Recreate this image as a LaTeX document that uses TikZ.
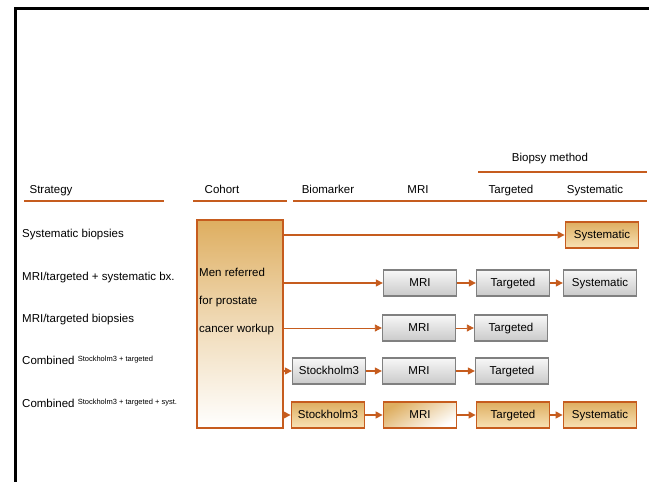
\documentclass[tikz,border=0pt]{standalone}
\usepackage{fontspec}
\setmainfont{Liberation Sans}
\usetikzlibrary{arrows.meta}

\definecolor{rust}{RGB}{198,92,30}
\definecolor{tan}{RGB}{222,174,96}
\definecolor{pale}{RGB}{248,226,182}
\definecolor{greyline}{RGB}{128,128,128}

\tikzset{
  txt/.style={font=\fontsize{11.5}{13}\selectfont, inner sep=0pt},
  boxtxt/.style={txt, text height=8.5pt, text depth=1pt, minimum width=73pt, minimum height=26pt},
  greybox/.style={boxtxt, draw=greyline, line width=1.3pt, top color=gray!6, bottom color=gray!42},
  orangebox/.style={boxtxt, draw=rust, line width=1.8pt, top color=tan, bottom color=pale},
  flow/.style={draw=rust, line width=1.3pt, -{Triangle[length=7pt,width=7pt]}},
  rule/.style={draw=rust, line width=1.3pt}
}

\begin{document}
\begin{tikzpicture}[x=1pt, y=-1pt]
    \useasboundingbox (0,0) rectangle (649,482);
    \draw[line width=3pt] (15,482) -- (15,8.5) -- (649,8.5);

    % headers
    \node[txt, anchor=base] (biopsy) at (550,161) {Biopsy method};
    \draw[rule] (478,172) -- (647,172);
    \node[txt, anchor=base] (hstrategy) at (51,193) {Strategy};
    \node[txt, anchor=base] (hcohort) at (222,193) {Cohort};
    \node[txt, anchor=base] (hbiomarker) at (328,193) {Biomarker};
    \node[txt, anchor=base] (hmri) at (418,193) {MRI};
    \node[txt, anchor=base] (htargeted) at (511,193) {Targeted};
    \node[txt, anchor=base] (hsystematic) at (595,193) {Systematic};
    \draw[rule] (24,201) -- (164,201);
    \draw[rule] (193,201) -- (287,201);
    \draw[rule] (293,201) -- (647,201);

    % strategies
    \node[txt, anchor=base west] (s1) at (22,237) {Systematic biopsies};
    \node[txt, anchor=base west] (s2) at (22,280) {MRI/targeted + systematic bx.};
    \node[txt, anchor=base west] (s3) at (22,322) {MRI/targeted biopsies};
    \node[txt, anchor=base west] (s4) at (22,364) {Combined \raisebox{3pt}{\fontsize{7.5}{9}\selectfont Stockholm3 + targeted}};
    \node[txt, anchor=base west] (s5) at (22,407) {Combined \raisebox{3pt}{\fontsize{7.5}{9}\selectfont Stockholm3 + targeted + syst.}};

    % cohort
    \node[draw=rust, line width=1.8pt, top color=tan, bottom color=white, middle color=tan!45,
      minimum width=86pt, minimum height=208pt, inner sep=0pt] (cohort) at (240,324) {};
    \node[txt, anchor=base west, align=left, font=\fontsize{11.5}{28}\selectfont] (cohorttext) at (199,332)
      {Men referred\\for prostate\\cancer workup};

    % boxes
    \node[orangebox] (sys1) at (602,235) {Systematic};

    \node[greybox] (mri2) at (420,283) {MRI};
    \node[greybox] (tgt2) at (513,283) {Targeted};
    \node[greybox] (sys2) at (600,283) {Systematic};

    \node[greybox] (mri3) at (419,328) {MRI};
    \node[greybox] (tgt3) at (511,328) {Targeted};

    \node[greybox] (stk4) at (329,371) {Stockholm3};
    \node[greybox] (mri4) at (419,371) {MRI};
    \node[greybox] (tgt4) at (512,371) {Targeted};

    \node[orangebox] (stk5) at (328,415) {Stockholm3};
    \node[orangebox, top color=tan, bottom color=white, shading angle=30] (mri5) at (420,415) {MRI};
    \node[orangebox] (tgt5) at (513,415) {Targeted};
    \node[orangebox] (sys5) at (600,415) {Systematic};

    % arrows
    \draw[flow] (cohort.east |- sys1.west) -- (sys1.west);
    \draw[flow] (cohort.east |- mri2.west) -- (mri2.west);
    \draw[flow] (mri2) -- (tgt2);
    \draw[flow] (tgt2) -- (sys2);
    \draw[flow, line width=0.8pt] (cohort.east |- mri3.west) -- (mri3.west);
    \draw[flow, line width=0.8pt] (mri3) -- (tgt3);
    \draw[flow] (cohort.east |- stk4.west) -- (stk4.west);
    \draw[flow] (stk4) -- (mri4);
    \draw[flow] (mri4) -- (tgt4);
    \draw[flow] (cohort.east |- stk5.west) -- (stk5.west);
    \draw[flow] (stk5) -- (mri5);
    \draw[flow] (mri5) -- (tgt5);
    \draw[flow] (tgt5) -- (sys5);
\end{tikzpicture}
\end{document}
